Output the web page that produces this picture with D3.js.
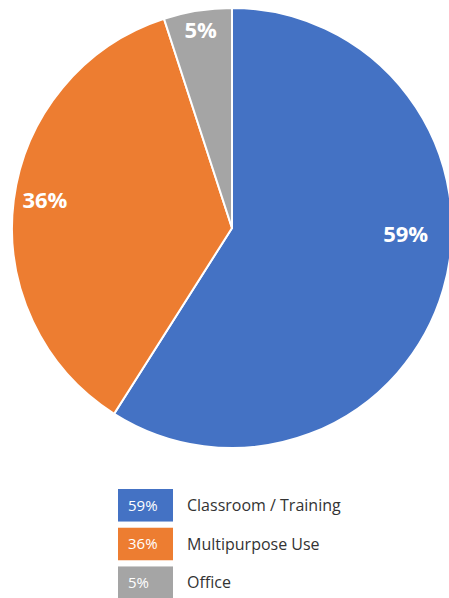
<!DOCTYPE html>
<html>
<head>
<meta charset="utf-8">
<script src="https://cdn.jsdelivr.net/npm/d3@7"></script>
<style>
  body { margin: 0; background: #fff; }
  svg { display: block; font-family: "Open Sans", sans-serif; }
</style>
</head>
<body>
<div id="chart"></div>
<script>
// Pie data
var categories = ['Classroom / Training', 'Multipurpose Use', 'Office'];
var values = [59, 36, 5];
var colors = ['#4472C4', '#ED7D31', '#A5A5A5'];

var width = 449, height = 598;
var cx = 232, cy = 228, radius = 220;

var data = categories.map(function(c, i) {
    return {cat: c, val: values[i], color: colors[i]};
});

var svg = d3.select('#chart').append('svg')
    .attr('width', width)
    .attr('height', height);

var pie = d3.pie()
    .value(function(d) { return d.val; })
    .sort(null);

var arc = d3.arc()
    .innerRadius(0)
    .outerRadius(radius);

var arcs = pie(data);

var g = svg.append('g')
    .attr('transform', 'translate(' + cx + ',' + cy + ')');

g.selectAll('path')
    .data(arcs)
    .enter()
    .append('path')
    .attr('d', arc)
    .attr('fill', function(d) { return d.data.color; })
    .attr('stroke', '#fff')
    .attr('stroke-width', 2);

// Label placement: radius factor and angle along the slice (0..1)
var labelPos = [[0.79, 0.433], [0.86, 0.51], [0.91, 0.5]];

g.selectAll('.label-text')
    .data(arcs)
    .enter()
    .append('text')
    .attr('class', 'label-text')
    .attr('transform', function(d, i) {
        var a = d.startAngle + (d.endAngle - d.startAngle) * labelPos[i][1];
        var r = radius * labelPos[i][0];
        return 'translate(' + (Math.sin(a) * r) + ',' + (-Math.cos(a) * r) + ')';
    })
    .attr('text-anchor', 'middle')
    .attr('dy', '0.36em')
    .attr('fill', '#fff')
    .attr('font-weight', 'bold')
    .style('font-size', '22px')
    .text(function(d) { return d.data.val + '%'; });

// Legend
var legendY = d3.scaleBand()
    .domain(categories)
    .range([489, 599])
    .paddingInner(0.16);

var legend = svg.selectAll('.legend')
    .data(data)
    .enter()
    .append('g')
    .attr('class', 'legend')
    .attr('transform', function(d) { return 'translate(118,' + legendY(d.cat) + ')'; });

legend.append('rect')
    .attr('width', 55)
    .attr('height', legendY.bandwidth())
    .attr('fill', function(d) { return d.color; });

legend.append('text')
    .attr('x', 10)
    .attr('y', legendY.bandwidth() / 2)
    .attr('dy', '0.36em')
    .attr('fill', '#fff')
    .style('font-size', '15px')
    .text(function(d) { return d.val + '%'; });

legend.append('text')
    .attr('x', 69)
    .attr('y', legendY.bandwidth() / 2)
    .attr('dy', '0.36em')
    .attr('fill', '#333')
    .style('font-size', '16px')
    .text(function(d) { return d.cat; });
</script>
</body>
</html>
